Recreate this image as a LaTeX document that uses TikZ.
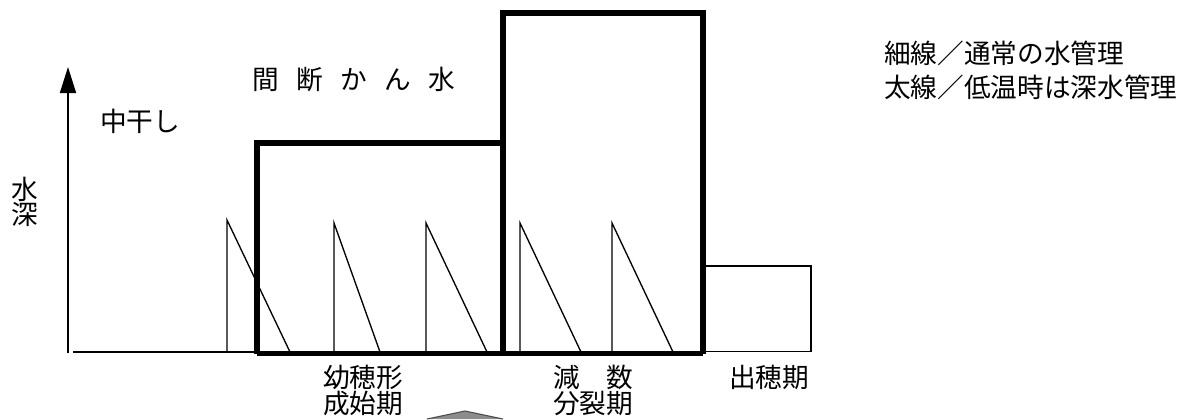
\documentclass[tikz,border=0pt]{standalone}
\usepackage{fontspec}
\setmainfont{Noto Sans CJK JP}
\usetikzlibrary{arrows.meta}
\tikzset{
  thin line/.style={line width=1.3pt, line cap=butt},
  saw/.style={line width=1pt},
  thick line/.style={line width=4.3pt, line join=miter},
  lbl/.style={inner sep=0pt, font=\fontsize{20}{24}\selectfont, align=center},
}
\begin{document}
\begin{tikzpicture}[x=0.75pt, y=-0.75pt]
\useasboundingbox (0,0) rectangle (1200,419);
% coordinates
\coordinate (axb) at (68,353);
\coordinate (axt) at (68,67);
\coordinate (bl0) at (73,352);
\coordinate (bl1) at (703,352);
% axis
\draw[thin line, -{Triangle[length=19.5pt,width=12pt]}] (axb) -- (axt);
% baseline
\draw[thin line] (bl0) -- (bl1);
% right thin box (heading period)
\draw[thin line] (703,266) -- (811,266) -- (811,351.5) -- (703,351.5);
% sawtooth (normal intermittent irrigation)
\draw[saw] (227,352) -- (227,220) -- (290,352);
\draw[saw] (334,352) -- (334,223) -- (380,352);
\draw[saw] (426,352) -- (426,223) -- (487,352);
\draw[saw] (520,352) -- (520,223) -- (581,352);
\draw[saw] (612,352) -- (612,223) -- (673,352);
% thick boxes (deep water)
\draw[thick line] (257,353.5) -- (257,143) -- (503,143);
\draw[thick line] (503,353.5) -- (503,13) -- (703,13) -- (703,353.5);
\draw[thick line, line cap=square] (257,353.5) -- (703,353.5);
% gray shape at bottom
\draw[fill=gray!90, draw=black!70, line width=0.8pt] (427,419) -- (465,411) -- (503,419);
% labels
\node[lbl] (kandan) at (354,80) {間\hspace{13pt}断\hspace{13pt}か\hspace{13pt}ん\hspace{13pt}水};
\node[lbl] (nakaboshi) at (140,121) {中干し};
\node[lbl] (sui) at (25,189) {水};
\node[lbl] (shin) at (25,215) {深};
\node[lbl] (youho1) at (363,377) {幼穂形};
\node[lbl] (youho2) at (363,403) {成始期};
\node[lbl] (gensu1) at (593,377) {減　数};
\node[lbl] (gensu2) at (593,403) {分裂期};
\node[lbl] (shussui) at (769,377) {出穂期};
\node[lbl, anchor=west] (leg1) at (884,53) {細線／通常の水管理};
\node[lbl, anchor=west] (leg2) at (884,87) {太線／低温時は深水管理};
\end{tikzpicture}
\end{document}
